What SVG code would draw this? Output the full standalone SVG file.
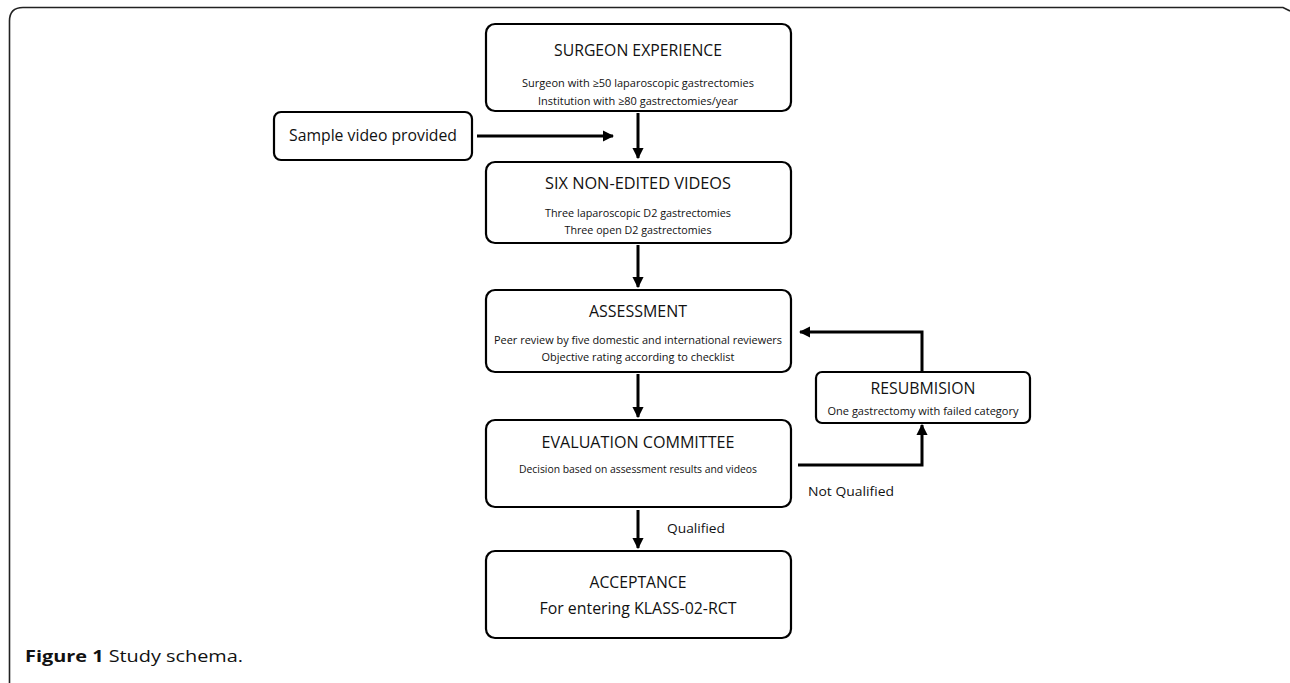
<svg xmlns="http://www.w3.org/2000/svg" width="1290" height="683" viewBox="0 0 1290 683">
<defs>
<style>
.box{fill:#fff;stroke:#000;stroke-width:2.2}
.t{font-family:"Open Sans","Liberation Sans",sans-serif;fill:#111;text-anchor:middle}
.h{font-size:16px}
.s{font-size:10.8px}
.l{font-size:12.5px;text-anchor:start}
.c{stroke:#000;stroke-width:3;fill:none}
</style>
<marker id="ah" viewBox="0 0 10 10" refX="9" refY="5" markerWidth="3.8" markerHeight="3.8" orient="auto" markerUnits="strokeWidth">
<path d="M0,0 L10,5 L0,10 z" fill="#000"/>
</marker>
</defs>
<rect width="1290" height="683" fill="#fff"/>
<path d="M9.5,683 V21 Q9.5,7.5 23,7.5 H1283 L1290,11" fill="none" stroke="#222" stroke-width="1.6"/>

<g id="connectors">
<line class="c" x1="638" y1="113" x2="638" y2="158" marker-end="url(#ah)"/>
<line class="c" x1="477" y1="136" x2="613" y2="136" stroke-width="2.5" marker-end="url(#ah)"/>
<line class="c" x1="638" y1="245" x2="638" y2="287" marker-end="url(#ah)"/>
<line class="c" x1="638" y1="374" x2="638" y2="417" marker-end="url(#ah)"/>
<line class="c" x1="638" y1="510" x2="638" y2="548" marker-end="url(#ah)"/>
<polyline class="c" points="922,372 922,332 800,332" marker-end="url(#ah)"/>
<polyline class="c" points="798,465 922,465 922,425" marker-end="url(#ah)"/>
<text class="t l" x="808" y="496" textLength="86" lengthAdjust="spacingAndGlyphs">Not Qualified</text>
<text class="t l" x="667" y="533" textLength="58" lengthAdjust="spacingAndGlyphs">Qualified</text>
</g>

<g id="surgeon">
<rect class="box" x="486" y="24" width="305" height="87" rx="9"/>
<text class="t h" x="638" y="56" textLength="168" lengthAdjust="spacingAndGlyphs">SURGEON EXPERIENCE</text>
<text class="t s" x="638" y="87" textLength="232" lengthAdjust="spacingAndGlyphs">Surgeon with ≥50 laparoscopic gastrectomies</text>
<text class="t s" x="638" y="105" textLength="200" lengthAdjust="spacingAndGlyphs">Institution with ≥80 gastrectomies/year</text>
</g>

<g id="sample">
<rect class="box" x="274" y="112" width="198" height="48" rx="7"/>
<text class="t h" x="373" y="141" textLength="168" lengthAdjust="spacingAndGlyphs">Sample video provided</text>
</g>

<g id="six">
<rect class="box" x="486" y="162" width="305" height="81" rx="9"/>
<text class="t h" x="638" y="189" textLength="186" lengthAdjust="spacingAndGlyphs">SIX NON-EDITED VIDEOS</text>
<text class="t s" x="638" y="217" textLength="186" lengthAdjust="spacingAndGlyphs">Three laparoscopic D2 gastrectomies</text>
<text class="t s" x="638" y="234" textLength="147" lengthAdjust="spacingAndGlyphs">Three open D2 gastrectomies</text>
</g>

<g id="assessment">
<rect class="box" x="486" y="290" width="305" height="82" rx="9"/>
<text class="t h" x="638" y="317" textLength="98" lengthAdjust="spacingAndGlyphs">ASSESSMENT</text>
<text class="t s" x="638" y="344" textLength="288" lengthAdjust="spacingAndGlyphs">Peer review by five domestic and international reviewers</text>
<text class="t s" x="638" y="361" textLength="193" lengthAdjust="spacingAndGlyphs">Objective rating according to checklist</text>
</g>

<g id="resubmision">
<rect class="box" x="816" y="372" width="214" height="51" rx="6"/>
<text class="t h" x="923" y="394" textLength="105" lengthAdjust="spacingAndGlyphs">RESUBMISION</text>
<text class="t s" x="923" y="415" textLength="191" lengthAdjust="spacingAndGlyphs">One gastrectomy with failed category</text>
</g>

<g id="evaluation">
<rect class="box" x="486" y="420" width="305" height="87" rx="9"/>
<text class="t h" x="638" y="448" textLength="193" lengthAdjust="spacingAndGlyphs">EVALUATION COMMITTEE</text>
<text class="t s" x="638" y="473" textLength="238" lengthAdjust="spacingAndGlyphs">Decision based on assessment results and videos</text>
</g>

<g id="acceptance">
<rect class="box" x="486" y="551" width="305" height="87" rx="9"/>
<text class="t h" x="638" y="588" textLength="97" lengthAdjust="spacingAndGlyphs">ACCEPTANCE</text>
<text class="t h" x="638" y="614" textLength="197" lengthAdjust="spacingAndGlyphs">For entering KLASS-02-RCT</text>
</g>

<text x="25" y="662" font-family="'Open Sans','Liberation Sans',sans-serif" font-size="16" fill="#111" textLength="218" lengthAdjust="spacingAndGlyphs"><tspan font-weight="bold">Figure 1</tspan> Study schema.</text>
</svg>
